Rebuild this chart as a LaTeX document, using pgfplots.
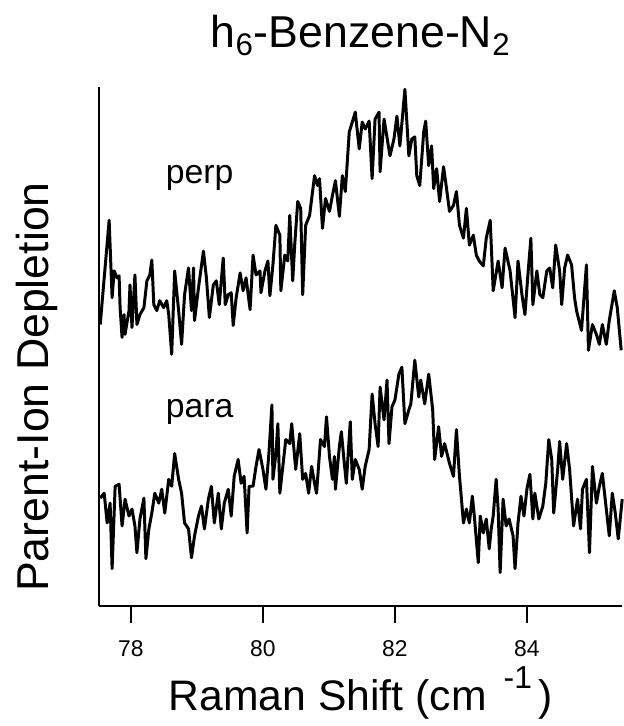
\documentclass[border=0pt]{standalone}
\usepackage{pgfplots}
\pgfplotsset{compat=1.18}
\usepackage{fontspec}
\setmainfont{Liberation Sans}
\begin{document}
\begin{tikzpicture}
\begin{axis}[
 name=ax,
 scale only axis,
 width=263.5pt, height=261.5pt,
 xmin=77.52, xmax=85.445, ymin=0, ymax=523,
 axis x line*=bottom, axis y line*=left,
 axis line style={line width=1pt},
 xtick={78,80,82,84},
 ytick=\empty,
 tick align=outside,
 major tick length=8.5pt,
 xtick style={line width=0.7pt, black},
 tick label style={font=\fontsize{11.5pt}{13pt}\selectfont},
 /pgf/number format/assume math mode=true,
 xticklabel style={yshift=-5pt},
 title={h\textsubscript{6}-Benzene-N\textsubscript{2}},
 title style={at={(axis description cs:0.5,1.0535)}, anchor=base, font=\fontsize{22.5pt}{26pt}\selectfont},
 xlabel={Raman Shift (cm\hspace{0.4em}\raisebox{11pt}{\fontsize{16pt}{16pt}\selectfont -1}\hspace{0.15em})},
 xlabel style={at={(axis description cs:0.5,-0.2008)}, anchor=base, font=\fontsize{21.5pt}{24pt}\selectfont},
 ylabel={Parent-Ion Depletion},
 ylabel style={at={(axis description cs:-0.1195,0.4226)}, anchor=center, font=\fontsize{22.5pt}{26pt}\selectfont},
 clip=false,
]
\addplot[black, line width=1.5pt, line join=round] coordinates {
(77.535,284)(77.670,389)(77.715,311)(77.746,338)(77.791,331)(77.821,333)(77.836,301)(77.866,271)(77.896,294)(77.911,274)
(77.971,298)(77.986,324)(78.016,281)(78.061,334)(78.091,284)(78.137,294)(78.197,301)(78.242,328)(78.287,334)(78.317,349)
(78.347,304)(78.392,298)(78.437,308)(78.497,301)(78.543,308)(78.573,294)(78.618,254)(78.663,338)(78.723,298)(78.768,264)
(78.813,314)(78.873,341)(78.918,298)(78.949,341)(78.964,288)(79.024,321)(79.099,358)(79.144,331)(79.189,291)(79.249,324)
(79.294,328)(79.339,304)(79.399,351)(79.430,304)(79.475,314)(79.520,316)(79.550,283)(79.595,311)(79.655,336)(79.700,318)
(79.745,331)(79.806,299)(79.851,354)(79.896,334)(79.956,338)(79.971,316)(80.031,338)(80.076,348)(80.106,313)(80.152,344)
(80.197,384)(80.257,374)(80.272,318)(80.332,354)(80.377,348)(80.407,394)(80.452,328)(80.482,364)(80.528,408)(80.573,401)
(80.603,314)(80.648,384)(80.708,394)(80.783,434)(80.828,424)(80.858,431)(80.903,381)(80.949,411)(81.009,398)(81.054,414)
(81.099,429)(81.159,393)(81.204,434)(81.249,418)(81.309,478)(81.355,488)(81.400,498)(81.460,461)(81.505,488)(81.550,481)
(81.610,489)(81.655,431)(81.700,491)(81.760,498)(81.776,438)(81.836,491)(81.926,454)(81.986,471)(82.031,494)(82.076,464)
(82.152,521)(82.212,454)(82.257,471)(82.302,473)(82.332,434)(82.377,424)(82.437,478)(82.467,489)(82.512,444)(82.557,464)
(82.588,421)(82.633,441)(82.678,408)(82.738,443)(82.783,421)(82.828,398)(82.888,404)(82.933,418)(82.979,384)(83.039,371)
(83.084,401)(83.129,364)(83.189,374)(83.234,354)(83.279,348)(83.340,343)(83.385,371)(83.445,389)(83.490,318)(83.565,348)
(83.625,321)(83.670,361)(83.746,338)(83.821,291)(83.866,348)(83.926,314)(83.971,294)(84.016,334)(84.061,371)(84.091,304)
(84.152,338)(84.197,314)(84.242,311)(84.302,338)(84.347,341)(84.392,321)(84.437,364)(84.497,338)(84.528,304)(84.573,341)
(84.618,354)(84.678,344)(84.723,311)(84.753,298)(84.828,278)(84.903,344)(84.933,258)(84.994,284)(85.054,274)(85.099,264)
(85.144,284)(85.204,264)(85.249,288)(85.325,318)(85.370,301)(85.430,258)
};
\addplot[black, line width=1.5pt, line join=round] coordinates {
(77.535,109)(77.595,114)(77.640,84)(77.685,104)(77.715,38)(77.761,121)(77.821,123)(77.866,81)(77.911,108)(77.971,91)
(78.016,98)(78.061,81)(78.091,54)(78.137,88)(78.197,109)(78.227,48)(78.272,78)(78.317,94)(78.362,114)(78.422,104)
(78.467,118)(78.513,94)(78.573,128)(78.618,121)(78.663,154)(78.723,128)(78.768,114)(78.813,84)(78.873,78)(78.918,49)
(78.964,71)(79.024,91)(79.069,101)(79.114,78)(79.174,108)(79.219,121)(79.264,84)(79.324,114)(79.370,78)(79.415,104)
(79.475,118)(79.520,91)(79.565,131)(79.625,148)(79.670,124)(79.715,131)(79.761,74)(79.791,121)(79.851,121)(79.896,141)
(79.941,158)(80.001,138)(80.046,118)(80.091,154)(80.137,203)(80.152,128)(80.197,154)(80.227,184)(80.257,114)(80.302,141)
(80.347,168)(80.407,164)(80.437,184)(80.497,138)(80.558,174)(80.603,128)(80.648,134)(80.693,114)(80.738,141)(80.783,124)
(80.813,114)(80.873,168)(80.933,161)(80.964,191)(81.009,151)(81.054,128)(81.084,151)(81.099,118)(81.159,161)(81.189,176)
(81.234,144)(81.264,124)(81.324,186)(81.355,128)(81.400,148)(81.460,138)(81.505,118)(81.550,141)(81.610,158)(81.655,214)
(81.700,184)(81.746,161)(81.776,221)(81.836,188)(81.881,228)(81.911,164)(81.956,201)(82.001,208)(82.061,234)(82.106,241)
(82.152,184)(82.212,198)(82.242,204)(82.302,248)(82.362,211)(82.392,228)(82.452,204)(82.513,234)(82.573,198)(82.603,148)
(82.663,181)(82.708,151)(82.753,164)(82.828,144)(82.888,131)(82.933,178)(82.979,131)(83.009,108)(83.039,84)(83.084,98)
(83.129,84)(83.174,111)(83.204,91)(83.264,44)(83.294,91)(83.340,74)(83.385,88)(83.430,58)(83.460,78)(83.490,91)
(83.535,128)(83.565,98)(83.595,34)(83.640,108)(83.686,81)(83.731,88)(83.791,71)(83.821,38)(83.866,84)(83.911,111)
(83.956,91)(84.001,118)(84.046,133)(84.091,88)(84.121,114)(84.182,88)(84.242,101)(84.287,124)(84.332,168)(84.377,148)
(84.407,94)(84.467,138)(84.497,166)(84.543,128)(84.603,164)(84.648,138)(84.708,81)(84.768,108)(84.813,78)(84.843,118)
(84.903,128)(84.949,54)(84.994,141)(85.054,104)(85.099,121)(85.144,134)(85.204,98)(85.249,71)(85.295,114)(85.340,94)
(85.385,68)(85.445,108)
};
\node[anchor=base west, font=\fontsize{17pt}{20pt}\selectfont] at (axis cs:78.422,426) {perp};
\node[anchor=base west, font=\fontsize{17pt}{20pt}\selectfont] at (axis cs:78.422,190) {para};
\end{axis}
\path (ax.south west) +(-50pt,-57.5pt) (ax.north east) +(0pt,44pt);
\end{tikzpicture}
\end{document}
